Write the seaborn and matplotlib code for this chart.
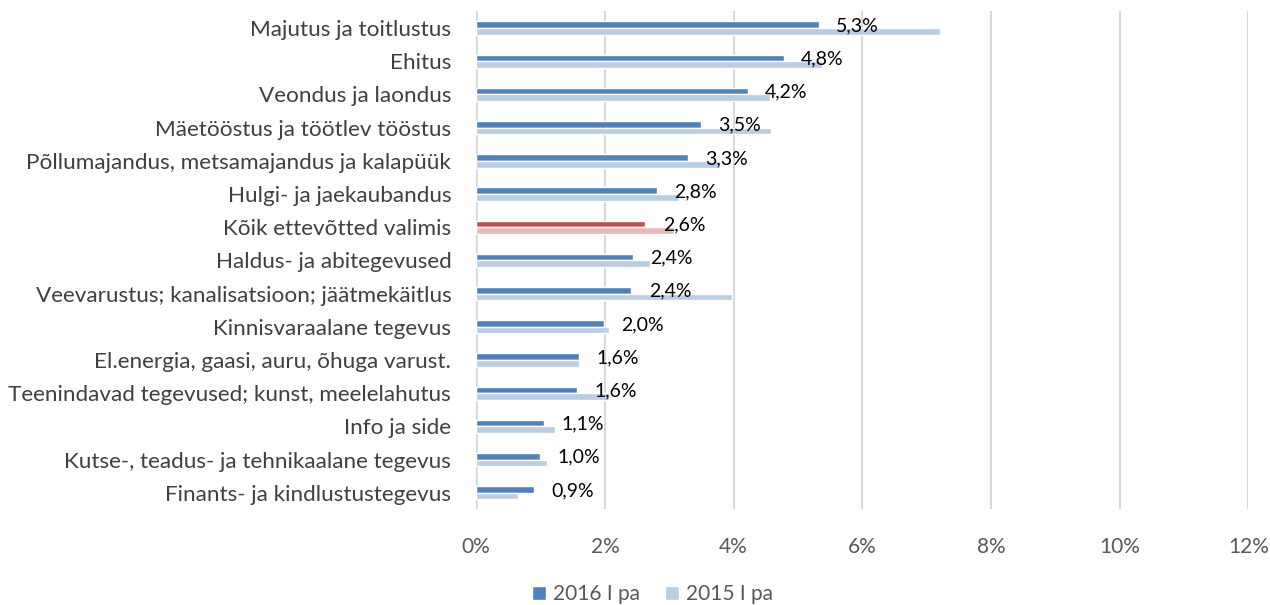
import matplotlib
matplotlib.use("Agg")
import matplotlib.pyplot as plt
import seaborn as sns
import pandas as pd
from matplotlib.patches import Patch

categories = [
    "Majutus ja toitlustus",
    "Ehitus",
    "Veondus ja laondus",
    "Mäetööstus ja töötlev tööstus",
    "Põllumajandus, metsamajandus ja kalapüük",
    "Hulgi- ja jaekaubandus",
    "Kõik ettevõtted valimis",
    "Haldus- ja abitegevused",
    "Veevarustus; kanalisatsioon; jäätmekäitlus",
    "Kinnisvaraalane tegevus",
    "El.energia, gaasi, auru, õhuga varust.",
    "Teenindavad tegevused; kunst, meelelahutus",
    "Info ja side",
    "Kutse-, teadus- ja tehnikaalane tegevus",
    "Finants- ja kindlustustegevus",
]
v2016 = [5.32, 4.78, 4.22, 3.49, 3.29, 2.81, 2.63, 2.43, 2.41, 1.98, 1.60, 1.57, 1.06, 0.99, 0.90]
v2015 = [7.21, 5.38, 4.56, 4.58, 3.79, 3.15, 3.08, 2.70, 3.98, 2.07, 1.60, 2.07, 1.22, 1.10, 0.65]
series = ["2016 I pa", "2015 I pa"]
xticks = [0, 2, 4, 6, 8, 10, 12]
highlight = "Kõik ettevõtted valimis"

df = pd.DataFrame({
    "cat": categories * 2,
    "value": v2016 + v2015,
    "series": [series[0]] * len(categories) + [series[1]] * len(categories),
})

sns.set_theme(style="white")
plt.rcParams["font.family"] = ["Lato", "DejaVu Sans"]

c_dark, c_light = "#4f81bd", "#b9cde5"
c_red, c_lred = "#c0504d", "#e6b9b8"

fig = plt.figure(figsize=(12.7, 6.05), dpi=100)
ax = fig.add_axes([0.375, 0.158, 0.608, 0.823])

sns.barplot(data=df, y="cat", x="value", hue="series", order=categories,
            hue_order=series, palette=[c_dark, c_light], width=0.4,
            dodge=True, orient="h", ax=ax, legend=False, saturation=1)

# Recolor highlighted row
hi = categories.index(highlight)
for cont, col in zip(ax.containers, [c_red, c_lred]):
    cont.patches[hi].set_facecolor(col)

# Data labels for 2016 series
for i, v in enumerate(v2016):
    bar = ax.containers[0].patches[i]
    yc = bar.get_y() + bar.get_height() / 2
    ax.text(v + 0.27, yc + 0.03, f"{v:.1f}%".replace(".", ","), va="center",
            ha="left", fontsize=14, color="#000000")

ax.set_xlim(0, 12)
ax.set_xticks(xticks)
ax.set_xticklabels([f"{t}%" for t in xticks], fontsize=15, color="#595959")
ax.tick_params(axis="x", length=0, pad=20)
ax.tick_params(axis="y", length=0, pad=18, labelsize=16.2, labelcolor="#404040")
ax.set_xlabel("")
ax.set_ylabel("")
for s in ax.spines.values():
    s.set_visible(False)
ax.grid(axis="x", color="#d9d9d9", linewidth=1.5)
ax.set_axisbelow(True)
ax.axvline(0, color="#d9d9d9", linewidth=2, zorder=0)

handles = [Patch(facecolor=c_dark), Patch(facecolor=c_light)]
fig.legend(handles, series, loc="center", bbox_to_anchor=(0.514, 0.018), ncol=2,
           frameon=False, fontsize=15, handlelength=0.65, handleheight=0.65,
           columnspacing=1.2, handletextpad=0.35, labelcolor="#595959")

fig.savefig("out.png", dpi=100)
